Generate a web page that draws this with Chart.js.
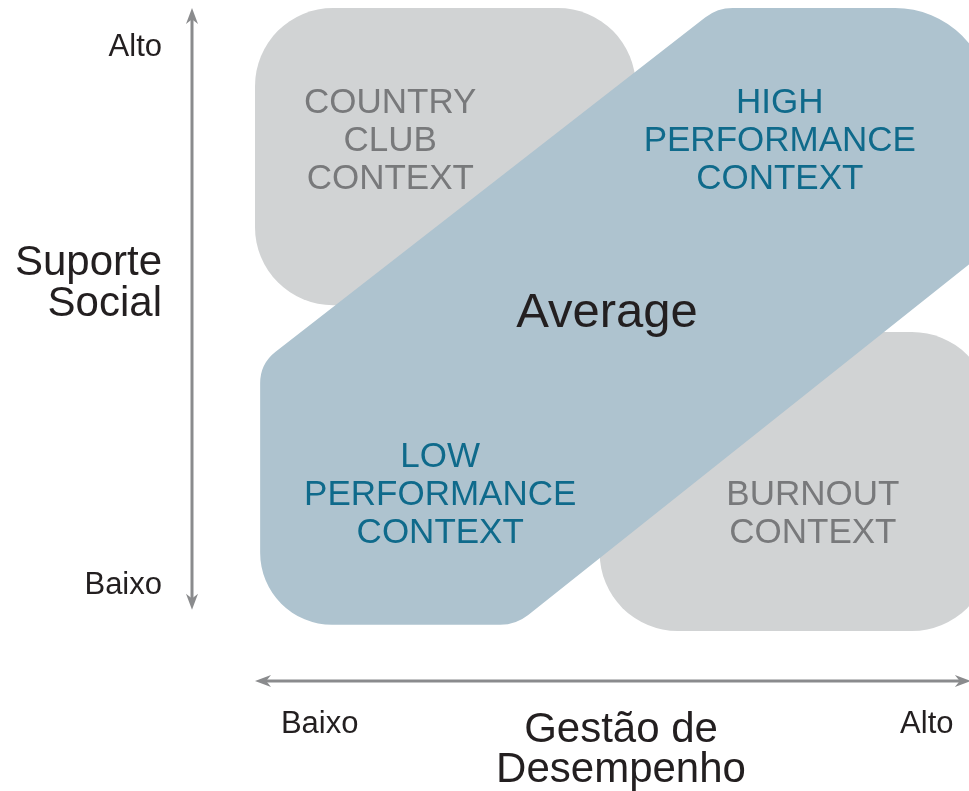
<!DOCTYPE html>
<html lang="pt">
<head>
    <meta charset="UTF-8">
    <title>Suporte Social x Gestão de Desempenho</title>
    <style>
        html, body {
            margin: 0;
            padding: 0;
            background: #fff;
            overflow: hidden;
        }
        .wrap {
            width: 1000px;
            height: 791px;
        }
    </style>
    <script src="https://cdn.jsdelivr.net/npm/chart.js"></script>
</head>
<body>
    <div class="wrap">
        <canvas id="quadChart" width="1000" height="791"></canvas>
    </div>

    <script>
        // axis labels
        const xTitle = ['Gestão de', 'Desempenho'];
        const yTitle = ['Suporte', 'Social'];
        const xTickLabels = ['Baixo', 'Alto'];
        const xTickValues = [8.8, 91.4];
        const yTickLabels = ['Baixo', 'Alto'];
        const yTickValues = [7.3, 93.6];

        // grey boxes (country club, burnout) in axis units 0..100
        const boxX0 = [0, 46.9];
        const boxX1 = [51.8, 100];
        const boxY0 = [52.3, 0];
        const boxY1 = [100, 48];

        // diagonal "average" band, corner points
        const bandX = [0.7, 0.7, 62.9, 100, 100, 35.5];
        const bandY = [1, 42.9, 100, 100, 61.5, 1];

        // region labels
        const regionLabels = [
            ['COUNTRY', 'CLUB', 'CONTEXT'],
            ['HIGH', 'PERFORMANCE', 'CONTEXT'],
            ['LOW', 'PERFORMANCE', 'CONTEXT'],
            ['BURNOUT', 'CONTEXT'],
            ['Average']
        ];
        const regionX = [18.4, 71.4, 25.2, 75.9, 47.9];
        const regionY = [78.6, 78.6, 21.8, 18.7, 51.0];

        const FONT = '"Liberation Sans", Arial, sans-serif';
        const GREY_BOX = '#d1d3d4';
        const BLUE_BAND = '#aec3cf';
        const GREY_TEXT = '#78797b';
        const TEAL_TEXT = '#0f6a8b';
        const DARK = '#231f20';
        const ARROW = '#8a8b8d';

        function roundPoly(ctx, pts, radii) {
            const n = pts.length;
            const mx = (pts[0][0] + pts[1][0]) / 2;
            const my = (pts[0][1] + pts[1][1]) / 2;
            ctx.beginPath();
            ctx.moveTo(mx, my);
            for (let i = 1; i <= n; i++) {
                const p = pts[i % n];
                const q = pts[(i + 1) % n];
                ctx.arcTo(p[0], p[1], q[0], q[1], radii[i % n]);
            }
            ctx.closePath();
        }

        function arrowHead(ctx, x, y, dx, dy) {
            // dx,dy = unit direction of the tip
            const len = 16, half = 6;
            ctx.beginPath();
            ctx.moveTo(x, y);
            ctx.lineTo(x - dx * len - dy * half, y - dy * len + dx * half);
            ctx.lineTo(x - dx * len * 0.7, y - dy * len * 0.7);
            ctx.lineTo(x - dx * len + dy * half, y - dy * len - dx * half);
            ctx.closePath();
            ctx.fill();
        }

        const diagramPlugin = {
            id: 'diagram',
            beforeDatasetsDraw(chart) {
                const ctx = chart.ctx;
                const xs = chart.scales.x;
                const ys = chart.scales.y;
                const px = v => xs.getPixelForValue(v);
                const py = v => ys.getPixelForValue(v);

                ctx.save();

                // grey boxes
                ctx.fillStyle = GREY_BOX;
                for (let i = 0; i < boxX0.length; i++) {
                    const x0 = px(boxX0[i]), x1 = px(boxX1[i]);
                    const y0 = py(boxY1[i]), y1 = py(boxY0[i]);
                    ctx.beginPath();
                    ctx.roundRect(x0, y0, x1 - x0, y1 - y0, 78);
                    ctx.fill();
                }

                // blue band
                const pts = bandX.map((v, i) => [px(v), py(bandY[i])]);
                roundPoly(ctx, pts, [72, 40, 45, 95, 55, 45]);
                ctx.fillStyle = BLUE_BAND;
                ctx.fill();

                // region labels
                ctx.textAlign = 'center';
                ctx.textBaseline = 'middle';
                const colors = [GREY_TEXT, TEAL_TEXT, TEAL_TEXT, GREY_TEXT, DARK];
                regionLabels.forEach((lines, i) => {
                    const big = lines.length === 1;
                    const size = big ? 49 : 35;
                    const lh = 38;
                    ctx.font = size + 'px ' + FONT;
                    ctx.fillStyle = colors[i];
                    const cx = px(regionX[i]);
                    const cy = py(regionY[i]);
                    lines.forEach((t, j) => {
                        ctx.fillText(t, cx, cy + (j - (lines.length - 1) / 2) * lh);
                    });
                });

                // arrows
                const area = chart.chartArea;
                const ax = area.left - 63;
                const ay = area.bottom + 50;
                ctx.strokeStyle = ARROW;
                ctx.fillStyle = ARROW;
                ctx.lineWidth = 3;
                const yTop = py(100), yBot = py(3.4);
                ctx.beginPath();
                ctx.moveTo(ax, yTop + 8);
                ctx.lineTo(ax, yBot - 8);
                ctx.stroke();
                arrowHead(ctx, ax, yTop, 0, -1);
                arrowHead(ctx, ax, yBot, 0, 1);

                const xL = px(0), xR = px(97.4);
                ctx.beginPath();
                ctx.moveTo(xL + 8, ay);
                ctx.lineTo(xR - 8, ay);
                ctx.stroke();
                arrowHead(ctx, xL, ay, -1, 0);
                arrowHead(ctx, xR, ay, 1, 0);

                // tick labels
                ctx.fillStyle = DARK;
                ctx.font = '31px ' + FONT;
                ctx.textAlign = 'right';
                yTickLabels.forEach((t, i) => ctx.fillText(t, area.left - 93, py(yTickValues[i])));
                ctx.textAlign = 'center';
                xTickLabels.forEach((t, i) => ctx.fillText(t, px(xTickValues[i]), ay + 43));

                // axis titles
                ctx.font = '42px ' + FONT;
                ctx.textAlign = 'right';
                yTitle.forEach((t, j) => ctx.fillText(t, area.left - 93, py(55.7) + (j - 0.5) * 41));
                ctx.textAlign = 'center';
                xTitle.forEach((t, j) => ctx.fillText(t, px(49.8), ay + 49 + j * 40));

                ctx.restore();
            }
        };

        new Chart(document.getElementById('quadChart'), {
            type: 'scatter',
            data: { datasets: [{ data: [], pointRadius: 0 }] },
            options: {
                responsive: false,
                animation: false,
                layout: { padding: { left: 255, top: 8, right: 10, bottom: 160 } },
                plugins: { legend: { display: false }, tooltip: { enabled: false } },
                scales: {
                    x: { type: 'linear', min: 0, max: 100, display: false },
                    y: { type: 'linear', min: 0, max: 100, display: false }
                }
            },
            plugins: [diagramPlugin]
        });
    </script>
</body>
</html>
